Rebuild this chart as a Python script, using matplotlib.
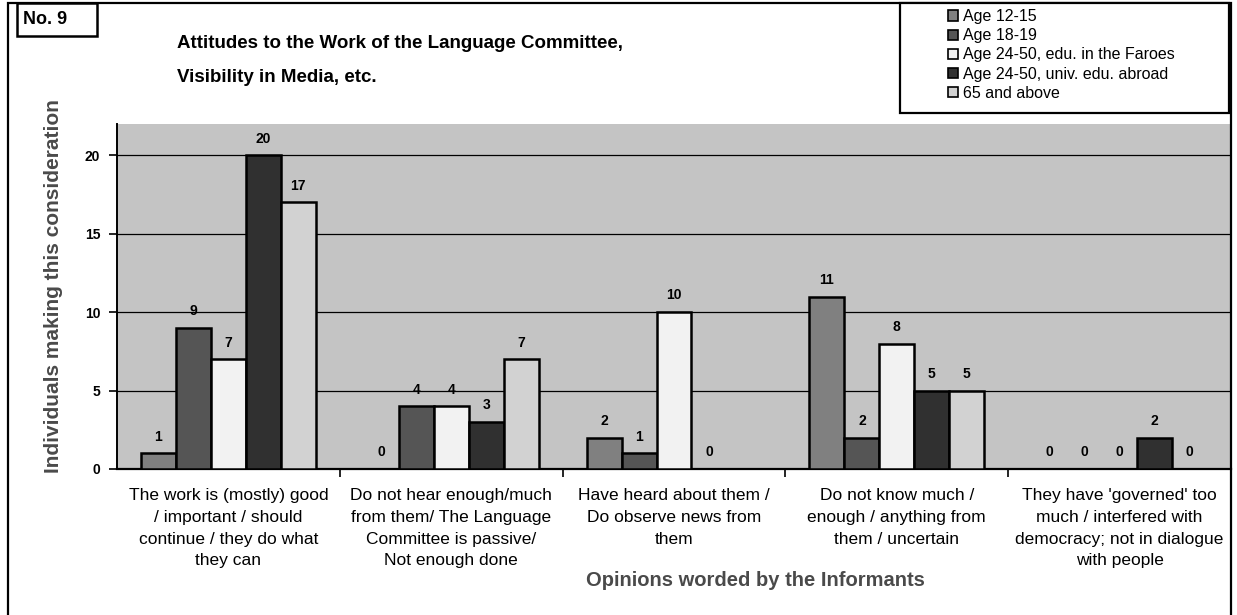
import numpy as np
import matplotlib
matplotlib.use("Agg")
import matplotlib.pyplot as plt
from matplotlib.patches import Rectangle

plt.rcParams['font.family'] = ['Liberation Sans', 'DejaVu Sans']

categories = [
    "The work is (mostly) good\n/ important / should\ncontinue / they do what\nthey can",
    "Do not hear enough/much\nfrom them/ The Language\nCommittee is passive/\nNot enough done",
    "Have heard about them /\nDo observe news from\nthem",
    "Do not know much /\nenough / anything from\nthem / uncertain",
    "They have 'governed' too\nmuch / interfered with\ndemocracy; not in dialogue\nwith people",
]
series_names = [
    "Age 12-15",
    "Age 18-19",
    "Age 24-50, edu. in the Faroes",
    "Age 24-50, univ. edu. abroad",
    "65 and above",
]
age_12_15 = [1, 0, 2, 11, 0]
age_18_19 = [9, 4, 1, 2, 0]
age_24_50_faroes = [7, 4, 10, 8, 0]
age_24_50_abroad = [20, 3, 0, 5, 2]
age_65_above = [17, 7, np.nan, 5, 0]
series_values = [age_12_15, age_18_19, age_24_50_faroes, age_24_50_abroad, age_65_above]
y_ticks = [0, 5, 10, 15, 20]

colors = ["#808080", "#555555", "#f2f2f2", "#303030", "#d2d2d2"]
bg_color = "#c4c4c4"

W, H = 1237, 615
fig = plt.figure(figsize=(W / 100, H / 100), dpi=100)

def fx(px):
    return px / W

def fy(py):
    return 1 - py / H

# outer frame
fig.patches.append(Rectangle((fx(8), fy(640)), fx(1231) - fx(8), fy(3) - fy(640),
                             transform=fig.transFigure, fill=False, lw=1.6,
                             edgecolor="black", zorder=0))

ax = fig.add_axes([fx(117), fy(469), fx(1231) - fx(117), fy(124) - fy(469)])
ax.set_facecolor(bg_color)

n = len(series_values)
bw = 0.157
x = np.arange(len(categories))
for k, vals in enumerate(series_values):
    pos = x + (k - (n - 1) / 2) * bw
    v = np.array(vals, dtype=float)
    ok = ~np.isnan(v)
    ax.bar(pos[ok], v[ok], width=bw, color=colors[k], edgecolor="black",
           linewidth=1.8, zorder=3, label=series_names[k])
    for p, val in zip(pos[ok], v[ok]):
        ax.annotate(f"{int(val)}", (p, val), xytext=(0, 7), textcoords="offset points",
                    ha="center", va="bottom", fontsize=10, fontweight="bold", zorder=4)

ax.set_xlim(-0.5, len(categories) - 0.5)
ax.set_ylim(0, 22)
ax.set_yticks(y_ticks)
ax.set_yticklabels([str(t) for t in y_ticks], fontsize=10, fontweight="bold")
for t in y_ticks[1:]:
    ax.axhline(t, color="black", lw=0.9, zorder=1)

ax.set_xticks(x)
ax.set_xticklabels(categories, fontsize=12.5, linespacing=1.55)
ax.tick_params(axis="x", which="major", length=0, pad=14)
ax.set_xticks(np.arange(0.5, len(categories) - 0.5, 1), minor=True)
ax.tick_params(axis="x", which="minor", length=6, width=1.2, direction="out")
ax.tick_params(axis="y", length=6, width=1.2, direction="out", pad=6)

for s in ["top", "right"]:
    ax.spines[s].set_visible(False)
ax.spines["left"].set_linewidth(1.4)
ax.spines["bottom"].set_linewidth(1.6)

fig.text(fx(54), fy(286), "Individuals making this consideration", rotation=90,
         ha="center", va="center", fontsize=15, color="#4a4a4a", fontweight="bold")
fig.text(fx(755), fy(581), "Opinions worded by the Informants", ha="center",
         va="center", fontsize=14.5, color="#4a4a4a", fontweight="bold")

fig.text(fx(177), fy(44), "Attitudes to the Work of the Language Committee,",
         ha="left", va="center", fontsize=13.5, fontweight="bold")
fig.text(fx(177), fy(77), "Visibility in Media, etc.", ha="left", va="center",
         fontsize=13.5, fontweight="bold")

# "No. 9" box
fig.patches.append(Rectangle((fx(17), fy(36)), fx(97) - fx(17), fy(3) - fy(36),
                             transform=fig.transFigure, fill=True, facecolor="white",
                             lw=1.8, edgecolor="black", zorder=2))
fig.text(fx(23), fy(20), "No. 9", ha="left", va="center", fontsize=13,
         fontweight="bold", zorder=3)

# legend box
fig.patches.append(Rectangle((fx(900), fy(113)), fx(1229) - fx(900), fy(3) - fy(113),
                             transform=fig.transFigure, fill=True, facecolor="white",
                             lw=1.6, edgecolor="black", zorder=2))
handles, labels = ax.get_legend_handles_labels()
leg = fig.legend(handles, labels, loc="upper left",
                 bbox_to_anchor=(fx(937), fy(-2)), frameon=False, fontsize=11.5,
                 handlelength=0.6, handleheight=0.6, handletextpad=0.35,
                 labelspacing=0.26, borderpad=0.2)
leg.set_zorder(5)
for h in leg.legend_handles:
    h.set_linewidth(1.2)

fig.savefig("out.png", dpi=100)
